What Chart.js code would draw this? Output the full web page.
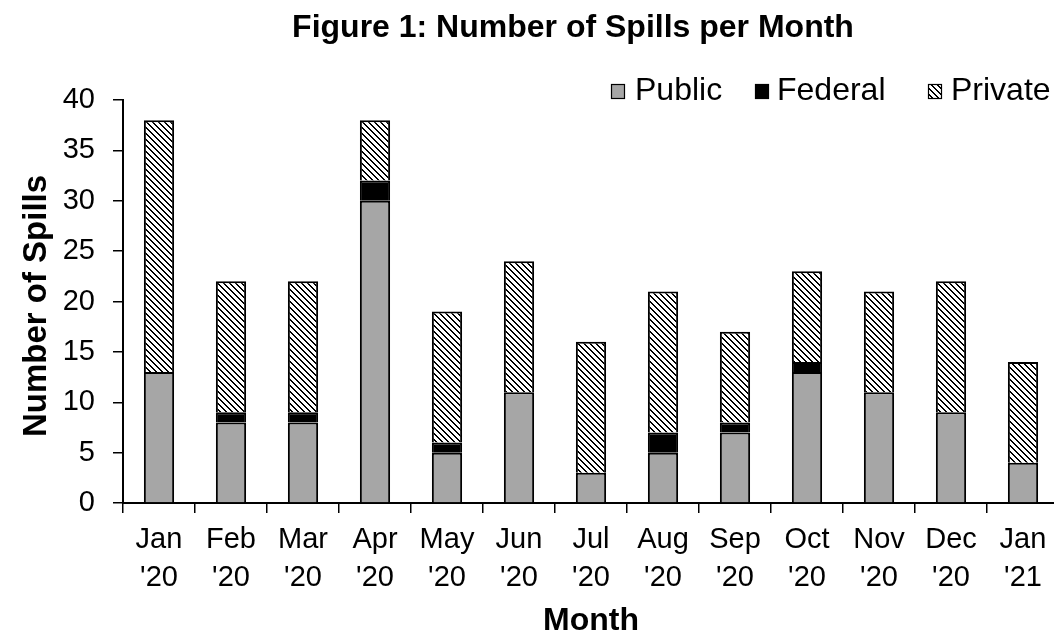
<!DOCTYPE html>
<html>
<head>
<meta charset="utf-8">
<script src="https://cdn.jsdelivr.net/npm/chart.js@4/dist/chart.umd.min.js"></script>
<style>
  html, body { margin: 0; padding: 0; background: #fff; overflow: hidden; }
  #wrap { width: 1059px; height: 641px; position: relative; }
</style>
</head>
<body>
<div id="wrap"><canvas id="c"></canvas></div>
<script>
const categories = [["Jan","'20"],["Feb","'20"],["Mar","'20"],["Apr","'20"],["May","'20"],["Jun","'20"],["Jul","'20"],["Aug","'20"],["Sep","'20"],["Oct","'20"],["Nov","'20"],["Dec","'20"],["Jan","'21"]];
const publicSpills  = [13, 8, 8, 30, 5, 11, 3, 5, 7, 13, 11, 9, 4];
const federalSpills = [0, 1, 1, 2, 1, 0, 0, 2, 1, 1, 0, 0, 0];
const privateSpills = [25, 13, 13, 6, 13, 13, 13, 14, 9, 9, 10, 13, 10];
const yTicks = [0, 5, 10, 15, 20, 25, 30, 35, 40];

const FONT = '"Liberation Sans", Arial, sans-serif';

function makeHatch() {
  const p = document.createElement('canvas');
  p.width = 6; p.height = 6;
  const g = p.getContext('2d');
  g.fillStyle = '#fff'; g.fillRect(0, 0, 6, 6);
  g.fillStyle = '#000';
  for (let i = 0; i < 6; i++) { g.fillRect(i, i, 1, 1); g.fillRect((i + 1) % 6, i, 1, 1); }
  return g.createPattern(p, 'repeat');
}
const hatch = makeHatch();

const textPlugin = {
  id: 'customText',
  afterDraw(chart) {
    const ctx = chart.ctx;
    ctx.save();
    ctx.fillStyle = '#000';
    ctx.font = 'bold 32px ' + FONT;
    ctx.textAlign = 'center';
    ctx.textBaseline = 'alphabetic';
    ctx.fillText('Figure 1: Number of Spills per Month', 573, 37);
    // y axis title
    ctx.save();
    ctx.translate(37, 306);
    ctx.rotate(-Math.PI / 2);
    ctx.font = 'bold 33px ' + FONT;
    ctx.textBaseline = 'middle';
    ctx.fillText('Number of Spills', 0, 0);
    ctx.restore();
    // legend
    const items = [
      { ds: 0, bx: 611, tx: 635 },
      { ds: 1, bx: 755, tx: 777 },
      { ds: 2, bx: 928, tx: 951 }
    ];
    ctx.font = '32px ' + FONT;
    ctx.textAlign = 'left';
    ctx.textBaseline = 'alphabetic';
    items.forEach(it => {
      const ds = chart.data.datasets[it.ds];
      ctx.fillStyle = ds.backgroundColor;
      ctx.fillRect(it.bx, 84, 14, 15);
      ctx.lineWidth = 1.2;
      ctx.strokeStyle = '#000';
      ctx.strokeRect(it.bx + 0.5, 84.5, 13, 14);
      ctx.fillStyle = '#000';
      ctx.fillText(ds.label, it.tx, 100);
    });
    ctx.restore();
  }
};

const segBorder = c => (c.raw === 0 ? 0 : { top: 2, left: 2, right: 2, bottom: 0 });

new Chart(document.getElementById('c'), {
  type: 'bar',
  data: {
    labels: categories,
    datasets: [
      { label: 'Public', data: publicSpills, backgroundColor: '#a6a6a6', borderColor: '#000', borderWidth: segBorder, borderSkipped: false },
      { label: 'Federal', data: federalSpills, backgroundColor: '#000', borderColor: '#000', borderWidth: segBorder, borderSkipped: false },
      { label: 'Private', data: privateSpills, backgroundColor: hatch, borderColor: '#000', borderWidth: segBorder, borderSkipped: false }
    ]
  },
  options: {
    responsive: true,
    maintainAspectRatio: false,
    animation: false,
    layout: { padding: { top: 100, left: 0, right: 0, bottom: 0 } },
    datasets: { bar: { categoryPercentage: 1.0, barPercentage: 0.42 } },
    plugins: { legend: { display: false }, title: { display: false }, tooltip: { enabled: false } },
    scales: {
      x: {
        stacked: true,
        grid: { display: true, drawOnChartArea: false, drawTicks: true, tickLength: 10, color: '#000', lineWidth: 1.5, offset: true },
        border: { display: true, color: '#000', width: 2 },
        ticks: { color: '#000', font: { family: FONT, size: 29, lineHeight: 1.3 }, padding: 8, maxRotation: 0, autoSkip: false },
        title: { display: true, text: 'Month', color: '#000', font: { family: FONT, size: 32, weight: 'bold' }, padding: { top: 1, bottom: 1 } },
        afterFit(s) { s.height = 138; }
      },
      y: {
        stacked: true,
        min: 0, max: 40,
        afterBuildTicks(s) { s.ticks = yTicks.map(v => ({ value: v })); },
        grid: { display: true, drawOnChartArea: false, drawTicks: true, tickLength: 10, color: '#000', lineWidth: 1.5 },
        border: { display: true, color: '#000', width: 2 },
        ticks: { color: '#000', font: { family: FONT, size: 29 }, padding: 18 },
        title: { display: false },
        afterFit(s) { s.width = 123; }
      }
    }
  },
  plugins: [textPlugin]
});
</script>
</body>
</html>
